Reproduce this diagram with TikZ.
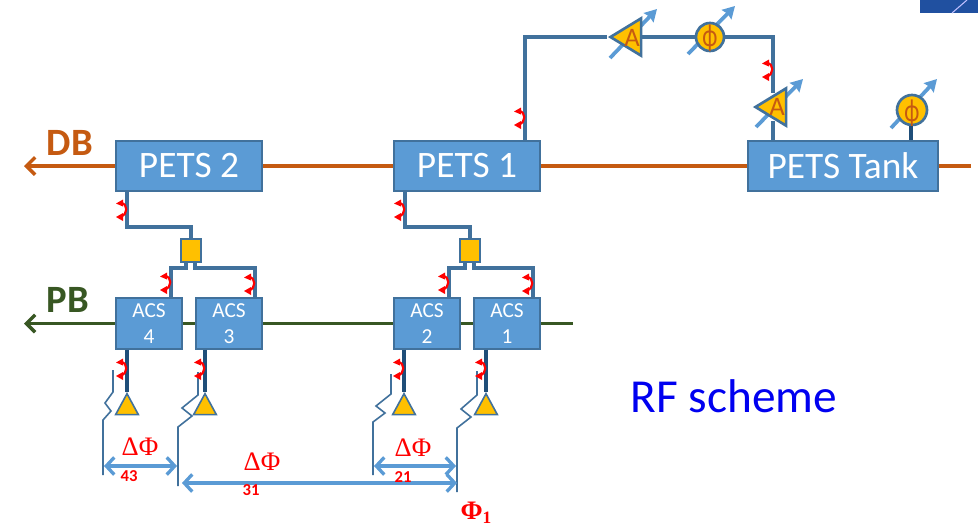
\documentclass[tikz,border=0pt]{standalone}
\usepackage{fontspec}
\usepackage{graphicx}
\setmainfont{Carlito}
\newfontfamily\greekserif{Liberation Serif}
\usetikzlibrary{arrows.meta,shapes.geometric}
\definecolor{boxblue}{HTML}{5B9BD5}
\definecolor{edgeblue}{HTML}{41719C}
\definecolor{darkblue}{HTML}{1F4E79}
\definecolor{gold}{HTML}{FFC000}
\definecolor{dbcol}{HTML}{C55A11}
\definecolor{pbcol}{HTML}{385723}
\tikzset{
  x=0.75pt,y=-0.75pt,
  petsbox/.style={draw=edgeblue,line width=1.6pt,fill=boxblue,text=white,minimum height=37.5pt,inner sep=0pt,font=\fontsize{28}{30}\selectfont},
  acsbox/.style={draw=edgeblue,line width=1.2pt,fill=boxblue,text=white,minimum width=49.5pt,minimum height=38pt,inner sep=0pt,align=center,font=\fontsize{16}{19.5}\selectfont},
  combiner/.style={draw=edgeblue,line width=1.6pt,fill=gold,minimum width=15pt,minimum height=17.5pt,inner sep=0pt},
  conn/.style={draw=edgeblue,line width=2.5pt},
  feed/.style={draw=darkblue,line width=2.5pt},
  dbline/.style={draw=dbcol,line width=2.6pt},
  pbline/.style={draw=pbcol,line width=2.6pt},
  barb/.style={-{Straight Barb[length=6.5pt,width=13pt]}},
  antenna/.style={isosceles triangle,isosceles triangle apex angle=57,shape border rotate=90,draw=edgeblue,line width=1.2pt,fill=gold,minimum height=15.5pt,minimum width=17pt,inner sep=0pt,anchor=apex},
  amp/.style={isosceles triangle,isosceles triangle stretches,shape border rotate=180,draw=edgeblue,line width=2pt,fill=gold,minimum height=23pt,minimum width=28pt,inner sep=0pt,anchor=apex},
  shifter/.style={circle,draw=edgeblue,line width=2pt,fill=gold,minimum size=21pt,inner sep=0pt},
  symtext/.style={text=dbcol,inner sep=0pt,font=\fontsize{20}{22}\selectfont},
  phasetext/.style={text=dbcol,inner sep=0pt,font=\fontsize{24}{26}\selectfont},
  tune/.style={draw=boxblue,line width=2.8pt,-{Stealth[length=9pt,width=10pt,inset=1pt]}},
  ruler/.style={draw=edgeblue,line width=1.2pt},
  span/.style={draw=boxblue,line width=2.5pt,{Straight Barb[length=6pt,width=13pt]}-{Straight Barb[length=6pt,width=13pt]}},
  dphi/.style={text=red,inner sep=0pt,font=\greekserif\fontsize{20}{22}\selectfont},
  subn/.style={text=red,inner sep=0pt,font=\bfseries\fontsize{12.5}{14}\selectfont},
  hook/.pic={
    \draw[red,line width=1.6pt] (-6,-7) .. controls (1,-6.5) and (1,4.5) .. (-6,6.5);
    \fill[red] (-11,-6.5) -- (-4,-10.5) -- (-4,-3.5) -- cycle;
    \fill[red] (-11,7) -- (-4,3) -- (-4,11) -- cycle;
  }
}
\begin{document}
\begin{tikzpicture}
\useasboundingbox (0,0) rectangle (978,526);
% corner tab
\fill[fill={rgb,255:red,32;green,80;blue,160}] (920,0) rectangle (978,13);
\draw[white!75!blue,line width=0.8pt] (952,13) -- (967,0);
% free ends
\coordinate (dbtip) at (24,166);
\coordinate (dbend) at (971,166);
\coordinate (pbtip) at (24,323.5);
\coordinate (pbend) at (573,323.5);
% tuning arrows (behind)
\coordinate (t1a) at (610,58); \coordinate (t1b) at (657,9);
\coordinate (t2a) at (688,54); \coordinate (t2b) at (735,6);
\coordinate (t3a) at (756,127); \coordinate (t3b) at (803,79);
\coordinate (t4a) at (891,128); \coordinate (t4b) at (937,79);
\draw[tune] (t1a) -- (t1b);
\draw[tune] (t2a) -- (t2b);
\draw[tune] (t3a) -- (t3b);
\draw[tune] (t4a) -- (t4b);
% main boxes
\node[petsbox,minimum width=109.5pt] (pets2) at (189,166) {PETS 2};
\node[petsbox,minimum width=109.5pt] (pets1) at (467,166) {PETS 1};
\node[petsbox,minimum width=142.5pt] (tank) at (843,166) {PETS Tank};
\node[acsbox] (acs4) at (149,323.5) {ACS\\4};
\node[acsbox] (acs3) at (229,323.5) {ACS\\3};
\node[acsbox] (acs2) at (427,323.5) {ACS\\2};
\node[acsbox] (acs1) at (507,323.5) {ACS\\1};
\node[combiner] (comb2) at (191,250.5) {};
\node[combiner] (comb1) at (470,250.5) {};
% drive and probe beams
\draw[dbline,barb] (pets2) -- (dbtip);
\draw[dbline] (pets2) -- (pets1);
\draw[dbline] (pets1) -- (tank);
\draw[dbline] (tank) -- (dbend);
\draw[pbline,barb] (acs4) -- (pbtip);
\draw[pbline] (acs4) -- (acs3);
\draw[pbline] (acs3) -- (acs2);
\draw[pbline] (acs2) -- (acs1);
\draw[pbline] (acs1) -- (pbend);
% combiners
\draw[conn] (127,0 |- pets2.south) |- (191,227) -- (comb2.north);
\draw[conn] (186,0 |- comb2.south) |- (171,268) -- (171,0 |- acs4.north);
\draw[conn] (195,0 |- comb2.south) |- (255,268) -- (255,0 |- acs3.north);
\draw[conn] (405,0 |- pets1.south) |- (470,227) -- (comb1.north);
\draw[conn] (465,0 |- comb1.south) |- (449,268) -- (449,0 |- acs2.north);
\draw[conn] (474,0 |- comb1.south) |- (533,268) -- (533,0 |- acs1.north);
% antennas
\node[antenna] (ant4) at (127,392) {};
\node[antenna] (ant3) at (205,392) {};
\node[antenna] (ant2) at (404,392) {};
\node[antenna] (ant1) at (486,392) {};
\draw[feed] (127,0 |- acs4.south) -- (ant4.apex);
\draw[feed] (205,0 |- acs3.south) -- (ant3.apex);
\draw[feed] (404,0 |- acs2.south) -- (ant2.apex);
\draw[feed] (486,0 |- acs1.south) -- (ant1.apex);
% rulers
\draw[ruler] (113,370) -- (113,392) -- (105,403) -- (111,411) -- (103,420) -- (103,475);
\draw[ruler] (198,372) -- (198,395) -- (182,408) -- (192,416) -- (178,427) -- (178,486);
\draw[ruler] (391,374) -- (391,394) -- (376,406) -- (385,413) -- (373,422) -- (373,475);
\draw[ruler] (477,371) -- (477,395) -- (461,409) -- (471,417) -- (457,428) -- (457,492);
\coordinate (s43a) at (104,466); \coordinate (s43b) at (177,466);
\coordinate (s31a) at (182,483); \coordinate (s31b) at (457,483);
\coordinate (s21a) at (374,466); \coordinate (s21b) at (456,466);
\draw[span] (s43a) -- (s43b);
\draw[span] (s31a) -- (s31b);
\draw[span] (s21a) -- (s21b);
\node[dphi] (d43) at (140,447) {ΔΦ};
\node[dphi] (d31) at (262,462) {ΔΦ};
\node[dphi] (d21) at (413,448) {ΔΦ};
\node[subn] (n43) at (129,476) {43};
\node[subn] (n31) at (251,490) {31};
\node[subn] (n21) at (403,477) {21};
\node[text=red,inner sep=0pt,font=\greekserif\bfseries\fontsize{20}{22}\selectfont] (phi1) at (476,513) {Φ\raisebox{-0.35ex}{\fontsize{13}{14}\selectfont 1}};
% RF loop
\node[amp] (amp1) at (607,37) {};
\node[amp] (amp2) at (752,107) {};
\node[shifter] (ps1) at (710,37) {};
\node[shifter,minimum size=22.5pt] (ps2) at (912,110) {};
\node[symtext] (a1) at (632,38) {A};
\node[symtext] (a2) at (777,107) {A};
\node[phasetext] (f1) at (710,38) {\scalebox{0.72}[1]{ϕ}};
\node[phasetext] (f2) at (912,113) {\scalebox{0.72}[1]{ϕ}};
\draw[conn] (525,0 |- pets1.north) |- (amp1.apex);
\draw[conn] (amp1.lower side) -- (ps1);
\draw[conn] (ps1) -| (773,0 |- amp2.north);
\draw[conn] (773,0 |- amp2.south) -- (773,0 |- tank.north);
\draw[feed] (911,0 |- ps2.south) -- (911,0 |- tank.north);
% RF hooks
\foreach \hx/\hy in {127/210,171/283,255/284,405/210,449/283,533/284,525/118,773/70,127/369,205/369,404/369,486/369}
  \pic at (\hx,\hy) {hook};
% titles
\node[text=dbcol,inner sep=0pt,font=\bfseries\fontsize{29}{31}\selectfont] (dbl) at (70,143) {DB};
\node[text=pbcol,inner sep=0pt,font=\bfseries\fontsize{29}{31}\selectfont] (pbl) at (68,300) {PB};
\node[text={rgb,255:red,0;green,0;blue,240},inner sep=0pt,font=\fontsize{35.5}{38}\selectfont] (rf) at (734,396) {RF scheme};
\end{tikzpicture}
\end{document}
